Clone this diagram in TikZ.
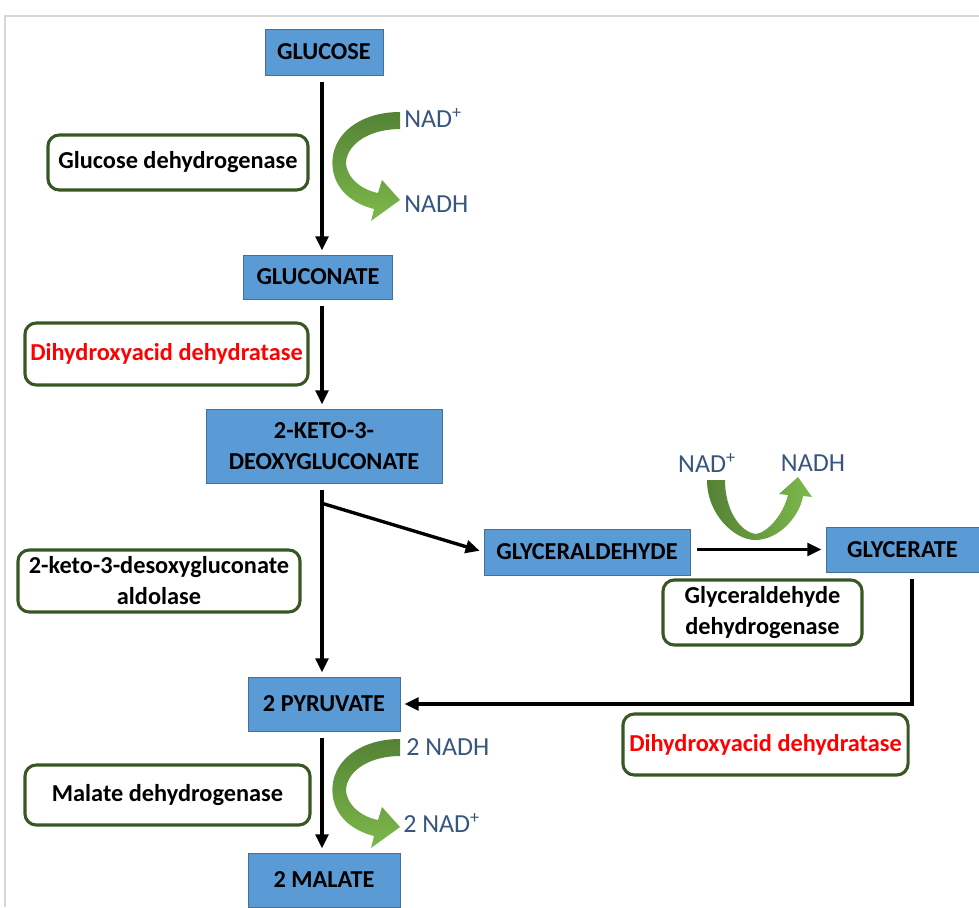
\documentclass[tikz,border=0pt]{standalone}
\usepackage{fontspec}
\setmainfont{Carlito}
\usetikzlibrary{arrows.meta, positioning, calc}
\definecolor{colorBox}{RGB}{91, 155, 213}
\definecolor{colorBoxEdge}{RGB}{65, 113, 156}
\definecolor{colorEnz}{RGB}{56, 87, 35}
\definecolor{colorCofac}{RGB}{55, 86, 125}
\definecolor{colorGreenDark}{RGB}{84, 130, 53}
\definecolor{colorGreenLight}{RGB}{125, 185, 75}
\definecolor{colorFrame}{RGB}{215, 215, 215}

\tikzset{
  nadcurl/.pic={
    \shade[top color=colorGreenDark, bottom color=colorGreenLight]
      (400,112) .. controls (355,112) and (325,140) .. (334,175)
      .. controls (340,195) and (358,205) .. (374,209) -- (371,221) -- (400,200)
      -- (382,180) -- (378,193) .. controls (362,190) and (346,178) .. (346,162)
      .. controls (348,142) and (372,129) .. (400,129) -- cycle;
  }
}

\begin{document}
\begin{tikzpicture}[
  x=0.025cm, y=-0.025cm,
  sbox/.style={draw=colorBoxEdge,fill=colorBox,font=\bfseries\fontsize{17.3}{22}\selectfont,
    align=center,inner sep=0pt},
  enz/.style={draw=colorEnz,line width=2.2pt,rounded corners=8pt,fill=white,
    font=\bfseries\fontsize{17.3}{22}\selectfont,align=center,inner sep=0pt},
  enzred/.style={enz,text=red},
  cof/.style={text=colorCofac,font=\fontsize{18.5}{20}\selectfont,inner sep=0pt},
  arr/.style={-{Triangle[length=10pt,width=9pt]},line width=2.4pt,
    shorten <=5pt,shorten >=3pt},
]
\useasboundingbox (0,0) rectangle (979,907);

% Frame
\draw[colorFrame,line width=1.5pt] (5,907) |- (979,16);

% Main chain
\node[sbox,minimum width=2.95cm,minimum height=1.15cm] (glucose) at (324,52) {GLUCOSE};
\node[sbox,minimum width=3.725cm,minimum height=1.1cm] (gluconate) at (318,277) {GLUCONATE};
\node[sbox,minimum width=5.9cm,minimum height=1.85cm] (keto) at (324,446) {2-KETO-3-\\DEOXYGLUCONATE};
\node[sbox,minimum width=5.15cm,minimum height=1.15cm] (glyald) at (587,552) {GLYCERALDEHYDE};
\node[sbox,minimum width=3.825cm,minimum height=1.125cm] (glycerate) at (902.5,549.5) {GLYCERATE};
\node[sbox,minimum width=3.8cm,minimum height=1.35cm] (pyruvate) at (324,704) {2 PYRUVATE};
\node[sbox,minimum width=3.8cm,minimum height=1.35cm] (malate) at (324,880) {2 MALATE};

% Enzymes
\node[enz,minimum width=6.5cm,minimum height=1.375cm] (glcdh) at (178,162.5) {Glucose dehydrogenase};
\node[enzred,minimum width=7.075cm,minimum height=1.55cm] (dhad) at (166.5,354) {Dihydroxyacid dehydratase};
\node[enz,minimum width=7.05cm,minimum height=1.55cm] (kdga) at (159,581) {2-keto-3-desoxygluconate\\aldolase};
\node[enz,minimum width=4.975cm,minimum height=1.625cm] (gaph) at (762.5,612.5) {Glyceraldehyde\\dehydrogenase};
\node[enzred,minimum width=7.125cm,minimum height=1.525cm] (dhadb) at (765.5,744.5) {Dihydroxyacid dehydratase};
\node[enz,minimum width=7.125cm,minimum height=1.5cm] (mdh) at (167.5,795) {Malate dehydrogenase};

% Cofactors
\node[cof,anchor=west] (nad) at (404,118) {NAD\textsuperscript{+}};
\node[cof,anchor=west] (nadh) at (404,204) {NADH};
\node[cof] (nadb) at (707,463) {NAD\textsuperscript{+}};
\node[cof] (nadhb) at (813,463) {NADH};
\node[cof,anchor=west] (nadhc) at (406,747) {2 NADH};
\node[cof,anchor=west] (nadc) at (403,823) {2 NAD\textsuperscript{+}};

% Green cofactor arrows
\pic at (0,0) {nadcurl};
\pic at (0,627) {nadcurl};
\shade[left color=colorGreenDark, right color=colorGreenLight]
  (707,480) .. controls (707,515) and (735,540) .. (755,540)
  .. controls (780,540) and (800,515) .. (803,496) -- (812,497) -- (798,477)
  -- (779,494) -- (788,495) .. controls (783,515) and (768,532) .. (756,534)
  .. controls (740,532) and (725,510) .. (725,480) -- cycle;

% Arrows
\coordinate (split) at ($(keto.south)+(-2,20)$);
\draw[arr] (glucose.south -| 322,0) -- (322,0 |- gluconate.north);
\draw[arr] (gluconate.south -| 322,0) -- (322,0 |- keto.north);
\draw[arr] (keto.south -| split) -- (split |- pyruvate.north);
\draw[arr,shorten <=0pt] (split) -- (glyald.west);
\draw[arr] (glyald.east |- glycerate) -- (glycerate.west);
\draw[arr] ($(glycerate.south)+(9.5,0)$) |- (pyruvate.east);
\draw[arr] (pyruvate.south -| 322,0) -- (322,0 |- malate.north);

\end{tikzpicture}
\end{document}
